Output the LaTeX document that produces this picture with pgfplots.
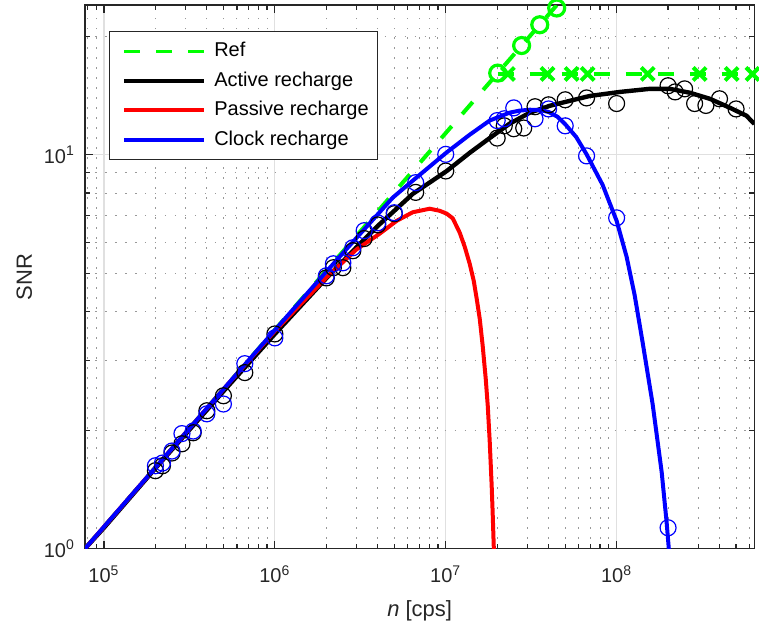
\documentclass[border=0pt]{standalone}
\usepackage{fontspec}
\setmainfont{Liberation Sans}
\usepackage{pgfplots}
\pgfplotsset{compat=1.18}
\definecolor{mgreen}{RGB}{0,255,0}
\definecolor{mred}{RGB}{255,0,0}
\definecolor{mblue}{RGB}{0,0,255}
\definecolor{axc}{RGB}{38,38,38}
\begin{document}
\begin{tikzpicture}
\begin{axis}[
  xmode=log, ymode=log,
  scale only axis, width=335pt, height=272pt,
  xmin=7.74e4, xmax=6.4e8, ymin=1, ymax=24,
  xtick={1e5,1e6,1e7,1e8},
  xticklabels={10\textsuperscript{5},10\textsuperscript{6},10\textsuperscript{7},10\textsuperscript{8}},
  ytick={1,10},
  yticklabels={10\textsuperscript{0},10\textsuperscript{1}},
  minor xtick={8e4,9e4,2e5,3e5,4e5,5e5,6e5,7e5,8e5,9e5,2e6,3e6,4e6,5e6,6e6,7e6,8e6,9e6,2e7,3e7,4e7,5e7,6e7,7e7,8e7,9e7,2e8,3e8,4e8,5e8,6e8},
  minor ytick={2,3,4,5,6,7,8,9,20},
  grid=both,
  major grid style={color=black!12, line width=0.6pt},
  minor grid style={color=black!40, line width=0.5pt, dash pattern=on 0.8pt off 4.2pt},
  tick align=inside,
  major tick length=4pt, minor tick length=2.5pt,
  tick style={color=axc, line width=0.6pt},
  axis line style={color=axc, line width=0.75pt},
  ticklabel style={font=\fontsize{10}{12}\selectfont, color=axc},
  xticklabel style={yshift=-5pt},
  yticklabel style={xshift=-1.5pt},
  xlabel={\textit{n} [cps]},
  ylabel={SNR},
  label style={font=\fontsize{11}{13}\selectfont, color=axc},
  xlabel style={yshift=-2pt},
  ylabel style={yshift=-1pt},
  clip mode=individual,
  legend cell align=left,
  legend image code/.code={\path[draw=none] (0pt,0pt) -- (47pt,0pt); \draw[#1] (3pt,0pt) -- (43pt,0pt);},
  legend style={at={(0.0358,0.952)}, anchor=north west, draw=axc, line width=0.5pt, fill=white,
    font=\fontsize{10}{12}\selectfont, inner xsep=4.5pt, inner ysep=5.4pt,
    row sep=5.75pt, column sep=1pt,
    nodes={inner sep=0pt, text height=7.2pt, text depth=1.8pt}},
]
% Ref
\addplot[mgreen, line width=2pt, dash pattern=on 8pt off 8pt, no markers]
  coordinates {(7.74e4,1.0) (5.0e7,25.4)};
\addlegendentry{Ref}
% Active recharge
\addplot[black, line width=2.2pt, no markers] coordinates {
(7.74e4,1.0) (1e5,1.13) (2e5,1.60) (5e5,2.51) (1e6,3.51) (2e6,4.86) (3e6,5.82) (4e6,6.6)
(6.41e6,7.96) (1.014e7,9.10) (1.381e7,10.12) (1.807e7,11.03) (2.366e7,12.0) (3.097e7,12.79)
(4.055e7,13.32) (5.31e7,13.71) (6.96e7,14.11) (1.05e8,14.45) (1.56e8,14.71) (2.05e8,14.71)
(2.68e8,14.38) (3.51e8,13.88) (4.6e8,13.17) (5.75e8,12.57) (6.4e8,11.98)};
\addlegendentry{Active recharge}
% Passive recharge
\addplot[mred, line width=2pt, no markers] coordinates {
(7.74e4,1.0) (2e5,1.607) (5e5,2.54) (1e6,3.57) (2e6,4.88) (3e6,5.75) (4.11e6,6.31)
(5.16e6,6.80) (6.41e6,7.15) (8.06e6,7.30) (9.23e6,7.21) (1.014e7,7.09) (1.099e7,6.90)
(1.208e7,6.34) (1.292e7,5.84) (1.381e7,5.29) (1.458e7,4.79) (1.518e7,4.31) (1.581e7,3.835)
(1.645e7,3.275) (1.714e7,2.70) (1.761e7,2.31) (1.808e7,1.88) (1.857e7,1.445) (1.882e7,1.234)
(1.909e7,1.018) (1.922e7,0.95)};
\addlegendentry{Passive recharge}
% Clock recharge
\addplot[mblue, line width=2pt, no markers] coordinates {
(7.74e4,1.0) (2e5,1.607) (5e5,2.54) (1e6,3.59) (2e6,5.05) (3e6,6.15) (4.9e6,7.79)
(6.41e6,8.6) (1.014e7,10.15) (1.381e7,11.25) (1.807e7,12.22) (2.366e7,12.8) (2.7e7,12.95)
(3.1e7,13.02) (3.55e7,13.0) (4.0e7,12.85) (4.5e7,12.5) (4.97e7,12.0) (5.8e7,11.1)
(6.68e7,10.02) (8.28e7,8.39) (1e8,6.80) (1.144e8,5.51) (1.274e8,4.41) (1.418e8,3.35)
(1.624e8,2.33) (1.834e8,1.568) (1.96e8,1.171) (2.02e8,1.0) (2.04e8,0.95)};
\addlegendentry{Clock recharge}
% Ref markers
\addplot[mgreen, line width=2pt, dash pattern=on 8pt off 8pt, no markers, forget plot]
  coordinates {(2.014e7,16.05) (6.4e8,16.05)};
\addplot[mgreen, only marks, mark=o, mark size=4pt, mark options={line width=1.6pt}, forget plot]
  coordinates {(2.014e7,16.13) (2.78e7,18.95) (3.55e7,21.4) (4.46e7,23.6)};
\addplot[mgreen, only marks, mark=x, mark size=4.6pt, mark options={line width=2pt}, forget plot]
  coordinates {(2.31e7,16.05) (3.94e7,16.05) (5.45e7,16.05) (6.77e7,16.05) (1.52e8,16.05)
  (3.06e8,16.05) (4.71e8,16.05) (6.24e8,16.05)};
% Active measurements
\addplot[black, only marks, mark=o, mark size=4pt, mark options={line width=0.6pt}, forget plot]
  coordinates {
(2e5,1.578) (2.2e5,1.624) (2.5e5,1.75) (2.86e5,1.847) (3.33e5,1.97) (4e5,2.24) (5e5,2.445)
(6.67e5,2.80) (1e6,3.51) (2e6,4.87) (2.2e6,5.17) (2.5e6,5.17) (2.86e6,5.71) (3.33e6,6.13)
(4e6,6.64) (5e6,7.09) (6.67e6,8.03) (1e7,9.10)
(2e7,11.03) (2.2e7,11.85) (2.5e7,11.65) (2.86e7,11.7) (3.33e7,13.25) (4e7,13.4) (5e7,13.8)
(6.67e7,13.95) (1e8,13.5) (2e8,14.98) (2.2e8,14.45) (2.5e8,14.71) (2.86e8,13.5) (3.33e8,13.35)
(4e8,13.88) (5e8,13.08)};
% Clock measurements
\addplot[mblue, only marks, mark=o, mark size=4pt, mark options={line width=0.6pt}, forget plot]
  coordinates {
(2e5,1.624) (2.2e5,1.65) (2.5e5,1.77) (2.86e5,1.96) (3.33e5,1.99) (4e5,2.20) (5e5,2.33)
(6.67e5,2.95) (1e6,3.43) (2e6,4.93) (2.2e6,5.29) (2.5e6,5.32) (2.86e6,5.81) (3.33e6,6.42)
(4e6,6.72) (5e6,7.13) (6.67e6,8.5) (1e7,10.03)
(2e7,12.22) (2.2e7,12.35) (2.5e7,13.16) (3.33e7,12.35) (4e7,13.08) (5e7,11.85) (6.67e7,9.94)
(1e8,6.92) (2e8,1.13)};
\end{axis}
\path ([xshift=-42.5pt,yshift=-40.5pt]current axis.south west) rectangle ([xshift=2pt,yshift=2pt]current axis.north east);
\end{tikzpicture}
\end{document}
